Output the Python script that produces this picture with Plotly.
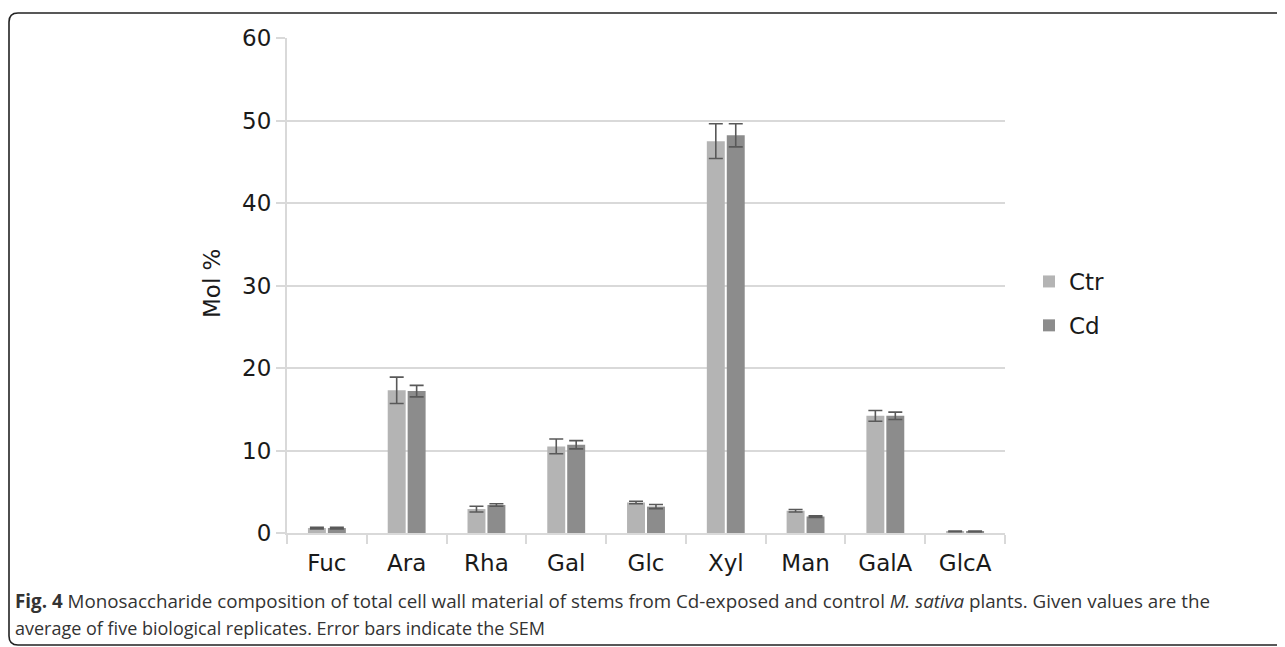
import plotly.graph_objects as go

categories = ["Fuc", "Ara", "Rha", "Gal", "Glc", "Xyl", "Man", "GalA", "GlcA"]
ctr_values = [0.6, 17.3, 2.9, 10.5, 3.7, 47.5, 2.7, 14.2, 0.2]
ctr_errors = [0.1, 1.6, 0.35, 0.9, 0.15, 2.1, 0.15, 0.65, 0.05]
cd_values = [0.6, 17.2, 3.4, 10.7, 3.2, 48.2, 2.0, 14.2, 0.2]
cd_errors = [0.1, 0.7, 0.15, 0.5, 0.25, 1.4, 0.1, 0.45, 0.05]
y_ticks = [0, 10, 20, 30, 40, 50, 60]

# page has an 8px body margin; work in screen coordinates and shift
OFF = 8
W, H = 1285 - OFF, 647 - OFF
PL, PR, PT, PB = 287, 1005, 38, 533          # plot area in screen pixels
L, T = PL - OFF, PT - OFF
R, B = W - (PR - OFF), H - (PB - OFF)
PW, PH = PR - PL, PB - PT


def px(x):
    return (x - PL) / PW


def py(y):
    return (PB - y) / PH


FONT = "DejaVu Sans, Verdana, sans-serif"
CAP_FONT = "Open Sans, sans-serif"
ERR_COLOR = "#595959"
TXT = "#1a1a1a"

fig = go.Figure()
fig.add_trace(go.Bar(
    x=categories, y=ctr_values, name="Ctr", legendgroup="a",
    marker=dict(color="#b4b4b4", line=dict(width=0)),
    error_y=dict(type="data", array=ctr_errors, color=ERR_COLOR, thickness=1.6, width=7),
))
fig.add_trace(go.Bar(
    x=categories, y=cd_values, name="Cd", legendgroup="b",
    marker=dict(color="#8c8c8c", line=dict(width=0)),
    error_y=dict(type="data", array=cd_errors, color=ERR_COLOR, thickness=1.6, width=7),
))

# rounded frame (open on the right side)
r = 9
x0, y0, y1 = 9, 13, 645
xe = 1285 + 30
path = (
    f"M {px(xe)},{py(y0)} L {px(x0 + r)},{py(y0)} "
    f"Q {px(x0)},{py(y0)} {px(x0)},{py(y0 + r)} "
    f"L {px(x0)},{py(y1 - r)} "
    f"Q {px(x0)},{py(y1)} {px(x0 + r)},{py(y1)} "
    f"L {px(xe)},{py(y1)}"
)

fig.update_layout(
    width=W, height=H,
    margin=dict(l=L, r=R, t=T, b=B, autoexpand=False),
    paper_bgcolor="white", plot_bgcolor="white",
    barmode="group", bargap=0.5, bargroupgap=0.1,
    font=dict(family=FONT, color=TXT, size=23),
    shapes=[dict(type="path", xref="paper", yref="paper", path=path,
                 line=dict(color="#222222", width=1.6), layer="above")],
    legend=dict(
        x=px(1029), y=py(260), xanchor="left", yanchor="top",
        font=dict(family=FONT, size=23, color=TXT),
        tracegroupgap=11, traceorder="grouped", bgcolor="rgba(0,0,0,0)",
        itemwidth=30,
    ),
    xaxis=dict(
        type="category", showgrid=False, showline=True, linecolor="#d9d9d9", linewidth=2,
        ticks="outside", tickson="boundaries", ticklen=9, tickcolor="#d9d9d9", tickwidth=2,
        tickfont=dict(family=FONT, size=23, color=TXT), zeroline=False,
        ticklabelstandoff=8,
    ),
    yaxis=dict(
        range=[0, 60], tickvals=y_ticks, showgrid=True, gridcolor="#d9d9d9", gridwidth=2,
        showline=True, linecolor="#d9d9d9", linewidth=2, zeroline=False,
        ticks="outside", ticklen=9, tickcolor="#d9d9d9", tickwidth=2,
        tickfont=dict(family=FONT, size=23, color=TXT),
    ),
    annotations=[
        dict(xref="paper", yref="paper", x=px(212), y=py(284), xanchor="center", yanchor="middle",
             showarrow=False, textangle=-90, text="Mol %",
             font=dict(family=FONT, size=23, color=TXT)),
        dict(xref="paper", yref="paper", x=px(13), y=py(601), xanchor="left", yanchor="middle",
             showarrow=False, align="left",
             text="<b>Fig. 4</b> Monosaccharide composition of total cell wall material of stems from Cd-exposed and control <i>M. sativa</i> plants. Given values are the",
             font=dict(family=CAP_FONT, size=18.8, color="#333333")),
        dict(xref="paper", yref="paper", x=px(13), y=py(628), xanchor="left", yanchor="middle",
             showarrow=False, align="left",
             text="average of five biological replicates. Error bars indicate the SEM",
             font=dict(family=CAP_FONT, size=18, color="#333333")),
    ],
)

fig.write_html("out.html")
